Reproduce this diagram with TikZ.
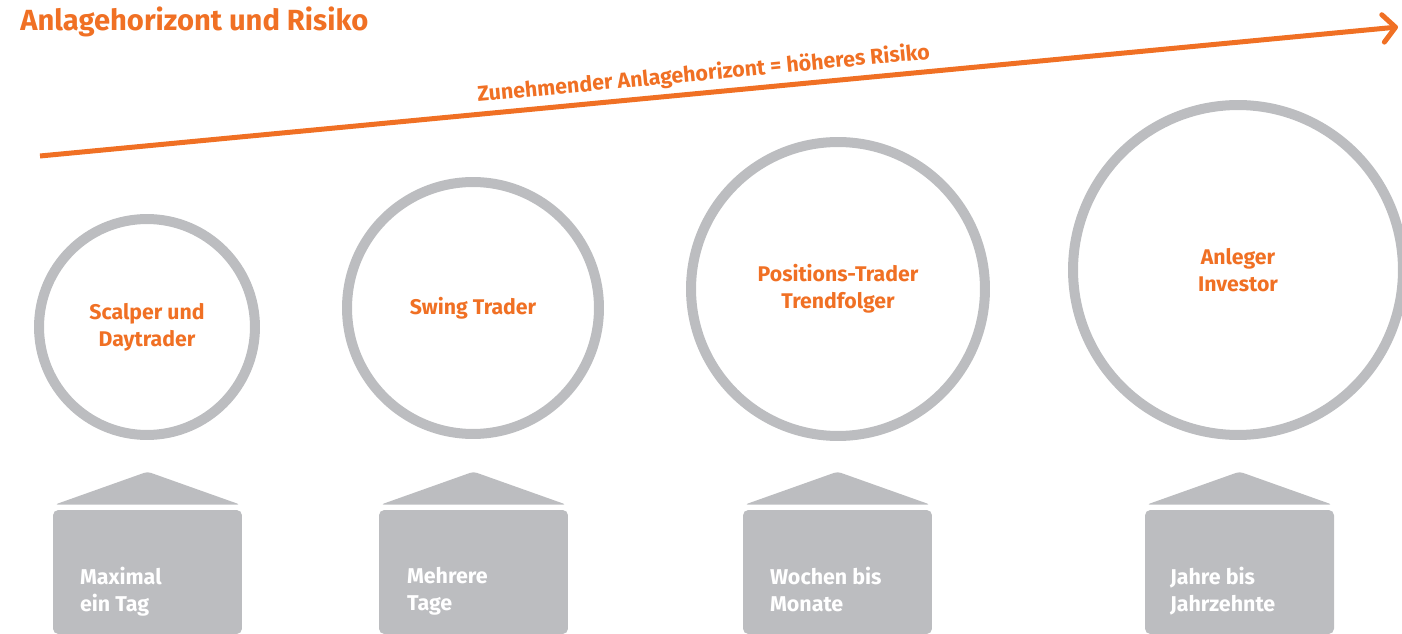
\documentclass[tikz,border=0pt]{standalone}
\usepackage{fontspec}
\setmainfont{Fira Sans}
\usetikzlibrary{arrows.meta,calc}
\definecolor{ingorange}{HTML}{F07024}
\definecolor{ringgray}{HTML}{BCBDC0}
\tikzset{
  ring/.style={circle, draw=ringgray, line width=0.2cm, text=ingorange,
    font=\bfseries\fontsize{12.1}{15.3}\selectfont, align=center, inner sep=0pt},
  horizon/.style={fill=ringgray, rounded corners=3pt, minimum width=3.78cm,
    minimum height=2.48cm, inner sep=0pt},
  horizontext/.style={text=white, font=\bfseries\fontsize{12.2}{15.3}\selectfont,
    align=left, anchor=north west, inner sep=0pt},
  roof/.style={fill=ringgray, rounded corners=2pt},
  risk/.style={draw=ingorange, line width=0.1cm,
    -{Straight Barb[length=0.25cm,width=0.55cm,round]}}
}
\begin{document}
\begin{tikzpicture}[x=0.02cm, y=-0.02cm]
  \useasboundingbox (0,0) rectangle (1402,634);
  % title
  \node[anchor=west, inner sep=0pt, text=ingorange,
    font=\bfseries\fontsize{16.6}{20}\selectfont] (title) at (20,22) {Anlagehorizont und Risiko};
  % risk arrow
  \coordinate (riskstart) at (40,156);
  \coordinate (riskend) at (1398,27);
  \draw[risk] (riskstart) -- (riskend)
    node[pos=0.49, sloped, above=3pt, inner sep=0pt, text=ingorange,
      font=\bfseries\fontsize{12.2}{14}\selectfont] (risklabel) {Zunehmender Anlagehorizont = höheres Risiko};
  % circles
  \node[ring, minimum size=4.32cm] (scalper) at (147,327) {Scalper und\\Daytrader};
  \node[ring, minimum size=5.04cm] (swing) at (473,308) {Swing Trader};
  \node[ring, minimum size=5.88cm] (position) at (838,289) {Positions-Trader\\Trendfolger};
  \node[ring, minimum size=6.6cm] (investor) at (1238,270) {Anleger\\Investor};
  % boxes
  \node[horizon] (box1) at (147.5,572) {};
  \node[horizon] (box2) at (473.5,572) {};
  \node[horizon] (box3) at (837.5,572) {};
  \node[horizon] (box4) at (1239.5,572) {};
  \fill[roof] ($(box1.north west)+(2,-5)$) -- ($(box1.north)+(0,-38)$) -- ($(box1.north east)+(-2,-5)$) -- cycle;
  \fill[roof] ($(box2.north west)+(2,-5)$) -- ($(box2.north)+(0,-38)$) -- ($(box2.north east)+(-2,-5)$) -- cycle;
  \fill[roof] ($(box3.north west)+(2,-5)$) -- ($(box3.north)+(0,-38)$) -- ($(box3.north east)+(-2,-5)$) -- cycle;
  \fill[roof] ($(box4.north west)+(2,-5)$) -- ($(box4.north)+(0,-38)$) -- ($(box4.north east)+(-2,-5)$) -- cycle;
  \node[horizontext] (text1) at ($(box1.north west)+(27,57)$) {Maximal\\ein Tag};
  \node[horizontext] (text2) at ($(box2.north west)+(28,57)$) {Mehrere\\Tage};
  \node[horizontext] (text3) at ($(box3.north west)+(27,57)$) {Wochen bis\\Monate};
  \node[horizontext] (text4) at ($(box4.north west)+(25,57)$) {Jahre bis\\Jahrzehnte};
\end{tikzpicture}
\end{document}
